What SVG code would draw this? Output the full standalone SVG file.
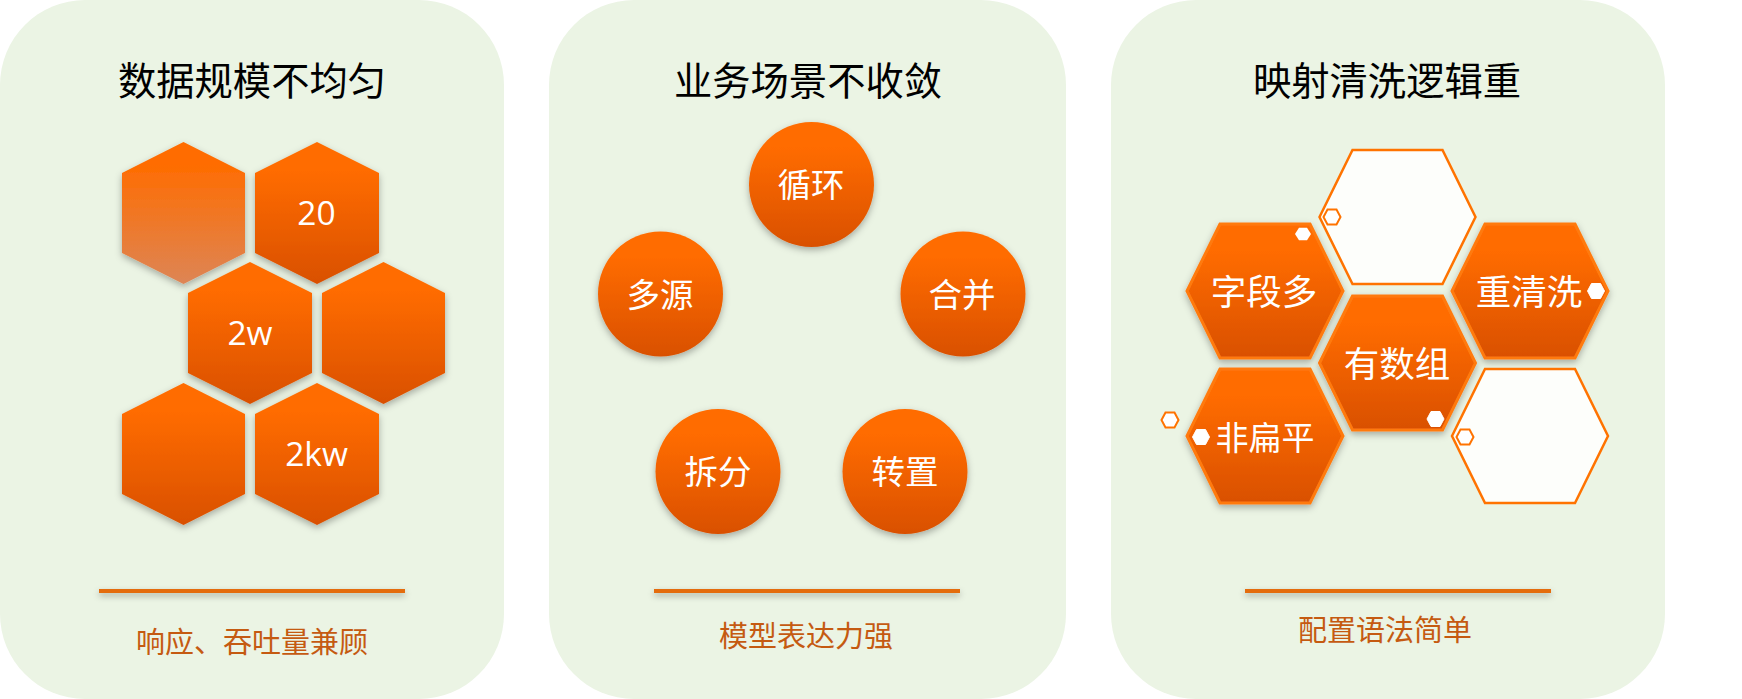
<svg xmlns="http://www.w3.org/2000/svg" width="1742" height="699" viewBox="0 0 1742 699">
<defs>
<linearGradient id="g" x1="0" y1="0" x2="0" y2="1"><stop offset="0.2" stop-color="#ff6c00"/><stop offset="1" stop-color="#d95000"/></linearGradient>
<linearGradient id="g2" x1="0" y1="0" x2="0" y2="1"><stop offset="0.15" stop-color="#ff6c00"/><stop offset="1" stop-color="#dd8555"/></linearGradient>
<filter id="s" x="-20%" y="-20%" width="140%" height="140%"><feDropShadow dx="0" dy="3" stdDeviation="3.500" flood-color="#000" flood-opacity="0.3"/></filter>
<filter id="sr" filterUnits="userSpaceOnUse" x="0" y="570" width="1742" height="50"><feDropShadow dx="0" dy="3" stdDeviation="3" flood-color="#000" flood-opacity="0.3"/></filter>
<polygon id="h" points="-61.500,-40 0,-71 61.500,-40 61.500,40 0,71 -61.500,40"/>
<polygon id="h2" points="-62,-40 0,-71 62,-40 62,40 0,71 -62,40"/>
<polygon id="p" points="-78,0 -45,-67 45,-67 78,0 45,67 -45,67"/>
<polygon id="m" points="-8.500,0 -4.500,-7.500 4.500,-7.500 8.500,0 4.500,7.500 -4.500,7.500"/>
<polygon id="ms" points="-8,0 -4,-6.200 4,-6.200 8,0 4,6.200 -4,6.200"/>
</defs>
<style>
.panel{fill:#ebf4e4}
.title{font:38.300px "Noto Sans CJK SC","Liberation Sans",sans-serif;fill:#000;text-anchor:middle}
.sub{font:29px "Noto Sans CJK SC","Liberation Sans",sans-serif;fill:#c55a11;text-anchor:middle}
.lbl{font:33.500px "Noto Sans CJK SC","Open Sans",sans-serif;fill:#fff;text-anchor:middle}
.num{font:33.500px "Open Sans","Noto Sans",sans-serif;fill:#fff;text-anchor:middle}
.big{font:35.500px "Noto Sans CJK SC","Open Sans",sans-serif;fill:#fff;text-anchor:middle}
.f{fill:url(#g);filter:url(#s)}
.fo{fill:url(#g);stroke:#ff7a10;stroke-width:3;filter:url(#s)}
.w{fill:#fdfefb;stroke:#ff7300;stroke-width:2.500}
.mw{fill:#fff}
.mh{fill:#fff;stroke:#fff;stroke-width:1}
.mo{fill:#fff;stroke:#ff7300;stroke-width:2}
.rule{fill:#e46c0a;filter:url(#sr)}
</style>
<g id="panel-1">
<rect class="panel" x="0" y="0" width="504" height="699" rx="85"/>
<text class="title" x="252" y="95">数据规模不均匀</text>
<rect class="rule" x="99" y="589" width="306" height="4"/>
<text class="sub" x="252" y="653">响应、吞吐量兼顾</text>
</g>
<g id="panel-2">
<rect class="panel" x="549" y="0" width="517" height="699" rx="85"/>
<text class="title" x="808" y="95">业务场景不收敛</text>
<rect class="rule" x="654" y="589" width="306" height="4"/>
<text class="sub" x="806" y="647">模型表达力强</text>
</g>
<g id="panel-3">
<rect class="panel" x="1111" y="0" width="554" height="699" rx="85"/>
<text class="title" x="1387" y="95">映射清洗逻辑重</text>
<rect class="rule" x="1245" y="589" width="306" height="4"/>
<text class="sub" x="1385" y="641">配置语法简单</text>
</g>
<g id="connectors"></g>
<g id="hex-1"><use href="#h" x="183.500" y="213" style="fill:url(#g2);filter:url(#s)"/></g>
<g id="hex-20"><use href="#h2" class="f" x="317" y="213"/><text class="num" x="316.500" y="225">20</text></g>
<g id="hex-2w"><use href="#h2" class="f" x="250" y="333"/><text class="num" x="250" y="345">2w</text></g>
<g id="hex-4"><use href="#h" class="f" x="383.500" y="333"/></g>
<g id="hex-5"><use href="#h" class="f" x="183.500" y="454"/></g>
<g id="hex-2kw"><use href="#h2" class="f" x="317" y="454"/><text class="num" x="316.500" y="466">2kw</text></g>
<g id="c-xunhuan"><circle class="f" cx="811.500" cy="184.500" r="62.500"/><text class="lbl" x="811" y="197">循环</text></g>
<g id="c-duoyuan"><circle class="f" cx="660.500" cy="294" r="62.500"/><text class="lbl" x="660" y="307">多源</text></g>
<g id="c-hebing"><circle class="f" cx="963" cy="294" r="62.500"/><text class="lbl" x="962" y="307">合并</text></g>
<g id="c-chaifen"><circle class="f" cx="718" cy="471.500" r="62.500"/><text class="lbl" x="718" y="484">拆分</text></g>
<g id="c-zhuanzhi"><circle class="f" cx="905" cy="471.500" r="62.500"/><text class="lbl" x="905" y="484">转置</text></g>
<g id="p-white-1"><use href="#p" class="w" x="1397.500" y="217"/><use href="#m" class="mo" x="1332" y="217"/></g>
<g id="p-ziduan"><use href="#p" class="fo" x="1265" y="291"/><use href="#ms" class="mw" x="1303" y="234"/><text class="big" x="1264" y="305">字段多</text></g>
<g id="p-chongqing"><use href="#p" class="fo" x="1530" y="291"/><use href="#m" class="mh" x="1596" y="291"/><text class="big" x="1529" y="305">重清洗</text></g>
<g id="p-youshuzu"><use href="#p" class="fo" x="1397.500" y="363"/><use href="#m" class="mh" x="1435.500" y="419"/><text class="big" x="1397" y="377">有数组</text></g>
<g id="p-feibianping"><use href="#p" class="fo" x="1265" y="436"/><use href="#m" class="mh" x="1201" y="437"/><text class="big" x="1265" y="450" style="font-size:33px">非扁平</text></g>
<g id="p-white-2"><use href="#p" class="w" x="1530" y="436"/><use href="#m" class="mo" x="1465" y="437"/></g>
<g id="m-out"><use href="#m" class="mo" x="1170" y="420"/></g>
</svg>
